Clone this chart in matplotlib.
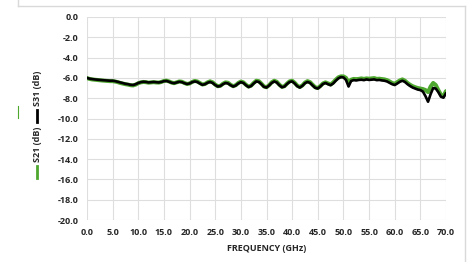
import numpy as np
import matplotlib
matplotlib.use('Agg')
import matplotlib.pyplot as plt
from matplotlib.lines import Line2D

plt.rcParams['font.family'] = ['Open Sans', 'DejaVu Sans']

# frequency grid (GHz), 0.5 GHz steps
freq = np.arange(0, 70.01, 0.5)

s31 = [
    -6.00, -6.08, -6.12, -6.15, -6.18, -6.20, -6.22, -6.25, -6.27, -6.28,
    -6.28, -6.32, -6.38, -6.45, -6.52, -6.58, -6.62, -6.68, -6.70, -6.62,
    -6.50, -6.42, -6.38, -6.40, -6.45, -6.42, -6.40, -6.43, -6.45, -6.40,
    -6.32, -6.30, -6.38, -6.48, -6.52, -6.45, -6.38, -6.42, -6.52, -6.60,
    -6.55, -6.42, -6.35, -6.40, -6.55, -6.68, -6.62, -6.48, -6.40, -6.50,
    -6.70, -6.85, -6.80, -6.62, -6.50, -6.55, -6.72, -6.85, -6.75, -6.55,
    -6.42, -6.50, -6.72, -6.90, -6.80, -6.55, -6.35, -6.40, -6.62, -6.88,
    -6.95, -6.75, -6.50, -6.35, -6.45, -6.72, -6.92, -6.85, -6.60, -6.40,
    -6.35, -6.55, -6.82, -6.95, -6.78, -6.52, -6.40, -6.50, -6.75, -6.98,
    -7.05, -6.85, -6.60, -6.50, -6.62, -6.72, -6.55, -6.28, -6.05, -5.92,
    -5.95, -6.20, -6.85, -6.30, -6.22, -6.25, -6.20, -6.18, -6.22, -6.15,
    -6.20, -6.18, -6.15, -6.22, -6.20, -6.25, -6.28, -6.35, -6.48, -6.62,
    -6.70, -6.55, -6.38, -6.28, -6.40, -6.62, -6.80, -6.95, -7.05, -7.15,
    -7.20, -7.35, -7.80, -8.35, -7.60, -7.00, -7.05, -7.40, -7.85, -7.95,
    -7.50,
]

s21 = [
    -6.02, -6.10, -6.15, -6.18, -6.22, -6.24, -6.26, -6.28, -6.30, -6.32,
    -6.32, -6.36, -6.42, -6.50, -6.56, -6.62, -6.66, -6.72, -6.74, -6.66,
    -6.52, -6.44, -6.40, -6.42, -6.47, -6.44, -6.42, -6.45, -6.46, -6.40,
    -6.30, -6.27, -6.35, -6.46, -6.52, -6.44, -6.35, -6.38, -6.50, -6.60,
    -6.55, -6.40, -6.30, -6.35, -6.50, -6.65, -6.60, -6.44, -6.34, -6.44,
    -6.66, -6.82, -6.78, -6.58, -6.44, -6.48, -6.68, -6.82, -6.72, -6.50,
    -6.36, -6.44, -6.68, -6.86, -6.76, -6.50, -6.28, -6.32, -6.56, -6.84,
    -6.92, -6.72, -6.44, -6.28, -6.38, -6.66, -6.88, -6.82, -6.56, -6.34,
    -6.28, -6.48, -6.76, -6.90, -6.74, -6.46, -6.32, -6.42, -6.68, -6.92,
    -7.00, -6.80, -6.55, -6.44, -6.55, -6.65, -6.45, -6.18, -5.95, -5.85,
    -5.85, -6.00, -6.45, -6.18, -6.10, -6.12, -6.10, -6.05, -6.10, -6.05,
    -6.08, -6.05, -6.02, -6.10, -6.08, -6.12, -6.15, -6.22, -6.35, -6.50,
    -6.58, -6.42, -6.25, -6.15, -6.28, -6.50, -6.68, -6.82, -6.92, -7.00,
    -7.05, -7.10, -7.20, -7.40, -6.85, -6.50, -6.70, -7.20, -7.65, -7.80,
    -7.30,
]

xticks = np.arange(0, 70.1, 5)
yticks = np.arange(-20, 0.1, 2)

W, H = 469, 262
fig = plt.figure(figsize=(W / 100, H / 100), dpi=100)
ax = fig.add_axes([87 / W, 1 - 220 / H, (446 - 87) / W, (220 - 17) / H])

ax.plot(freq, s21, color='#4ea72e', lw=2.9, solid_capstyle='round')
ax.plot(freq, s31, color='black', lw=1.9, solid_capstyle='round')

ax.set_xlim(0, 70)
ax.set_ylim(-20, 0)
ax.set_xticks(xticks)
ax.set_yticks(yticks)
ax.set_xticklabels([f'{v:.1f}' for v in xticks])
ax.set_yticklabels([f'{v:.1f}' for v in yticks])
ax.tick_params(length=0, labelsize=6.5, pad=6)
for lab in ax.get_xticklabels() + ax.get_yticklabels():
    lab.set_fontweight('bold')
    lab.set_color('#262626')
ax.grid(True, color='#dedede', lw=0.8)
ax.set_axisbelow(True)
for sp in ax.spines.values():
    sp.set_visible(False)
ax.set_xlabel('FREQUENCY (GHz)', fontsize=6.5, fontweight='bold',
              color='#262626', labelpad=5)

# outer chart border
for xs, ys in [([18, 18], [0, 6]), ([18, 465], [6, 6]), ([465, 465], [6, 262])]:
    fig.add_artist(Line2D([x / W for x in xs], [1 - y / H for y in ys],
                          color='#d9d9d9', lw=1.0))
fig.add_artist(Line2D([18 / W, 18 / W], [1 - 106 / H, 1 - 118 / H],
                      color='#4ea72e', lw=0.8))

# vertical legend
fig.add_artist(Line2D([37 / W, 37 / W], [1 - 166 / H, 1 - 178 / H],
                      color='#4ea72e', lw=2.0))
fig.text(37 / W, 1 - 144 / H, 'S21 (dB)', rotation=90, ha='center', va='center',
         fontsize=6.5, fontweight='bold', color='#262626')
fig.add_artist(Line2D([37 / W, 37 / W], [1 - 110 / H, 1 - 122 / H],
                      color='black', lw=2.0))
fig.text(37 / W, 1 - 88 / H, 'S31 (dB)', rotation=90, ha='center', va='center',
         fontsize=6.5, fontweight='bold', color='#262626')

fig.savefig('out.png', dpi=100)
